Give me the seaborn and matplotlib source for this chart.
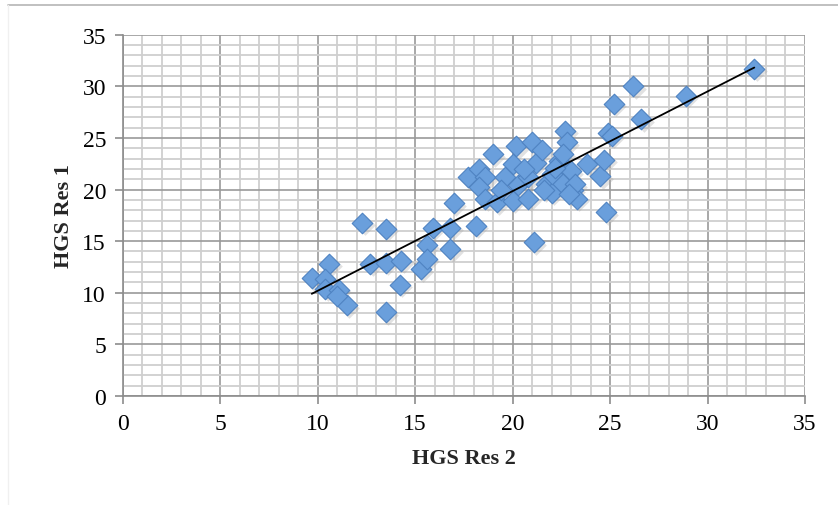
import matplotlib
matplotlib.use("Agg")
import matplotlib.pyplot as plt
import numpy as np
import pandas as pd
import seaborn as sns
from matplotlib.lines import Line2D
from matplotlib.ticker import MultipleLocator

# HGS Res 2 (x) vs HGS Res 1 (y)
hgs_res2 = [9.7, 10.6, 10.4, 10.4, 11.1, 11.5, 11.0, 12.3, 13.5, 12.7,
            13.5, 14.3, 14.2, 13.5, 15.3, 15.6, 15.9, 15.6, 16.8, 16.8,
            17.0, 18.1, 17.7, 18.3, 18.6, 19.0, 18.3, 18.6, 19.2, 19.6,
            20.0, 20.2, 21.0, 21.2, 20.0, 20.8, 20.3, 20.8, 21.5, 21.7,
            22.0, 22.4, 22.7, 22.8, 22.5, 23.1, 23.3, 23.0, 22.0, 23.8,
            24.5, 24.7, 24.9, 25.1, 24.8, 25.2, 26.6, 26.2, 28.9, 32.4,
            21.1, 22.2, 22.6, 21.6, 19.4, 20.6, 23.2, 22.9]
hgs_res1 = [11.4, 12.8, 11.3, 10.4, 10.3, 8.8, 9.7, 16.8, 16.2, 12.8,
            12.9, 13.1, 10.8, 8.1, 12.3, 14.6, 16.3, 13.3, 14.2, 16.3,
            18.7, 16.5, 21.2, 22.0, 21.2, 23.4, 20.2, 19.1, 18.8, 21.2,
            22.5, 24.2, 24.6, 22.6, 18.9, 19.1, 20.4, 21.2, 23.8, 20.5,
            19.7, 22.8, 25.7, 24.6, 20.7, 20.0, 19.1, 21.8, 21.5, 22.5,
            21.3, 22.9, 25.5, 25.2, 17.8, 28.3, 26.8, 30.0, 29.1, 31.7,
            14.9, 22.1, 23.4, 20.0, 20.0, 22.0, 20.5, 19.6]

df = pd.DataFrame({"HGS Res 2": hgs_res2, "HGS Res 1": hgs_res1})

sns.set_theme(style="white")
plt.rcParams["font.family"] = ["Liberation Serif", "DejaVu Serif"]

fig = plt.figure(figsize=(8.38, 5.06), dpi=100)
ax = fig.add_axes([0.1464, 0.2154, 0.8142, 0.714])

# grid first so the points sit on top
ax.set_xlim(0, 35)
ax.set_ylim(0, 35)
ax.xaxis.set_major_locator(MultipleLocator(5))
ax.yaxis.set_major_locator(MultipleLocator(5))
ax.xaxis.set_minor_locator(MultipleLocator(1))
ax.yaxis.set_minor_locator(MultipleLocator(1))
ax.grid(which="minor", color="#cfcfcf", linewidth=1.3)
ax.grid(which="major", color="#9a9a9a", linewidth=1.2)
ax.set_axisbelow(True)

# soft shadow under the diamonds
ax.scatter(df["HGS Res 2"] + 0.12, df["HGS Res 1"] - 0.25, marker="D", s=110,
           color="#a9a9a9", alpha=0.35, linewidths=0, zorder=2)
sns.scatterplot(data=df, x="HGS Res 2", y="HGS Res 1", marker="D", s=110,
                color="#6a9fdc", edgecolor="#4f83c2", linewidth=0.8,
                ax=ax, zorder=3)

# linear trendline over the data range
slope, intercept = np.polyfit(df["HGS Res 2"], df["HGS Res 1"], 1)
xs = np.array([df["HGS Res 2"].min(), df["HGS Res 2"].max()])
ax.plot(xs, slope * xs + intercept, color="black", linewidth=1.3, zorder=4)

for side in ["top", "right"]:
    ax.spines[side].set_visible(False)
for side in ["left", "bottom"]:
    ax.spines[side].set_color("#8c8c8c")
    ax.spines[side].set_linewidth(1.2)

ax.tick_params(which="major", direction="out", length=6, width=1.2,
               color="#8c8c8c", labelsize=17, pad=6, labelcolor="black",
               bottom=True, left=True)
ax.tick_params(which="minor", length=0)

ax.set_xlabel("HGS Res 2", fontsize=16, fontweight="bold", labelpad=10)
ax.set_ylabel("HGS Res 1", fontsize=16, fontweight="bold", labelpad=6)

# faint frame lines of the original image
fig.add_artist(Line2D([8 / 838, 1], [1 - 6 / 506, 1 - 6 / 506],
                      color="#b5b5b5", linewidth=1.2))
fig.add_artist(Line2D([8 / 838, 8 / 838], [0, 1 - 6 / 506],
                      color="#f0f0f0", linewidth=1.0))

fig.savefig("out.png", dpi=100)
